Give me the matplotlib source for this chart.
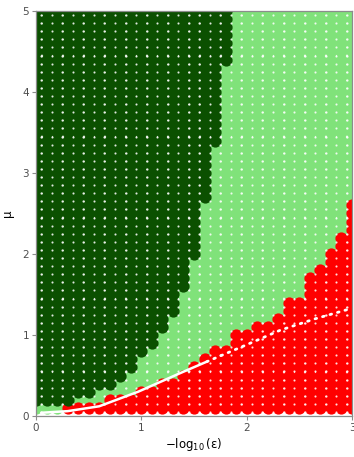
import numpy as np
import matplotlib.pyplot as plt

# parameter grid: columns in -log10(eps), rows in mu
x_cols = [0.0, 0.1, 0.2, 0.3, 0.4, 0.5, 0.6, 0.7, 0.8, 0.9, 1.0,
          1.1, 1.2, 1.3, 1.4, 1.5, 1.6, 1.7, 1.8, 1.9, 2.0,
          2.1, 2.2, 2.3, 2.4, 2.5, 2.6, 2.7, 2.8, 2.9, 3.0]
mu_rows = [round(0.1 * j, 1) for j in range(1, 51)]

# lowest mu of the dark green region in each column (None = no dark green)
dark_low = [0.2, 0.2, 0.2, 0.2, 0.3, 0.3, 0.4, 0.4, 0.5, 0.6, 0.8,
            0.9, 1.1, 1.3, 1.6, 2.0, 2.7, 3.4, 4.4, None, None,
            None, None, None, None, None, None, None, None, None, None]
# highest mu of the red region in each column (None = no red)
red_high = [None, None, None, 0.1, 0.1, 0.1, 0.1, 0.2, 0.2, 0.2, 0.3,
            0.3, 0.4, 0.4, 0.5, 0.6, 0.7, 0.8, 0.8, 1.0, 1.0,
            1.1, 1.1, 1.2, 1.4, 1.4, 1.7, 1.8, 2.0, 2.2, 2.6]

# boundary curve
curve_x = [0.05, 0.3, 0.6, 0.97, 1.37, 1.62]
curve_y = [0.04, 0.06, 0.12, 0.30, 0.53, 0.67]
curve_dot_x = [1.62, 2.0, 2.32, 2.65, 3.0]
curve_dot_y = [0.67, 0.88, 1.06, 1.20, 1.33]

dark_col = '#0b5000'
light_col = '#80e27a'
red_col = '#ff0000'
frame_col = '#8c8c8c'

dx, dy, dc = [], [], []
for x, lo, hi in zip(x_cols, dark_low, red_high):
    for mu in mu_rows:
        if lo is not None and mu >= lo - 1e-9:
            c = 'd'
        elif hi is not None and mu <= hi + 1e-9:
            c = 'r'
        else:
            c = 'l'
        dx.append(x)
        dy.append(mu)
        dc.append(c)
dx, dy, dc = np.array(dx), np.array(dy), np.array(dc)

fig = plt.figure(figsize=(3.54, 4.57), dpi=100)
ax = fig.add_axes([0.1017, 0.0897, 0.8927, 0.8863])

ms = 8.8
for key, col in [('l', light_col), ('r', red_col), ('d', dark_col)]:
    m = dc == key
    ax.plot(dx[m], dy[m], 'o', color=col, ms=ms, mec='none', zorder=2)

# small sample points between the grid nodes
gx, gy = np.meshgrid(np.arange(0.05, 3.0, 0.1), np.arange(0.05, 5.0, 0.1))
ax.plot(gx.ravel(), gy.ravel(), 'o', color='white', alpha=0.75,
        ms=1.6, mec='none', zorder=3)

ax.plot(curve_x, curve_y, color='white', lw=1.8, zorder=4,
        solid_capstyle='round')
ax.plot(curve_dot_x, curve_dot_y, color='white', lw=2.0, zorder=4,
        linestyle=(0, (0.6, 2.2)), dash_capstyle='round')

ax.set_xlim(0, 3)
ax.set_ylim(0, 5)
ax.set_xticks([0, 1, 2, 3])
ax.set_yticks([0, 1, 2, 3, 4, 5])
for s in ax.spines.values():
    s.set_color(frame_col)
    s.set_linewidth(0.9)
ax.tick_params(colors=frame_col, labelcolor='#4d4d4d', labelsize=7.5,
               length=3, width=0.8, pad=2)

ax.set_xlabel(r'$-\log_{10}$(ε)', fontsize=8.5, labelpad=2)
ax.set_ylabel('μ', fontsize=8.5, labelpad=6)

fig.savefig('out.png', dpi=100)
